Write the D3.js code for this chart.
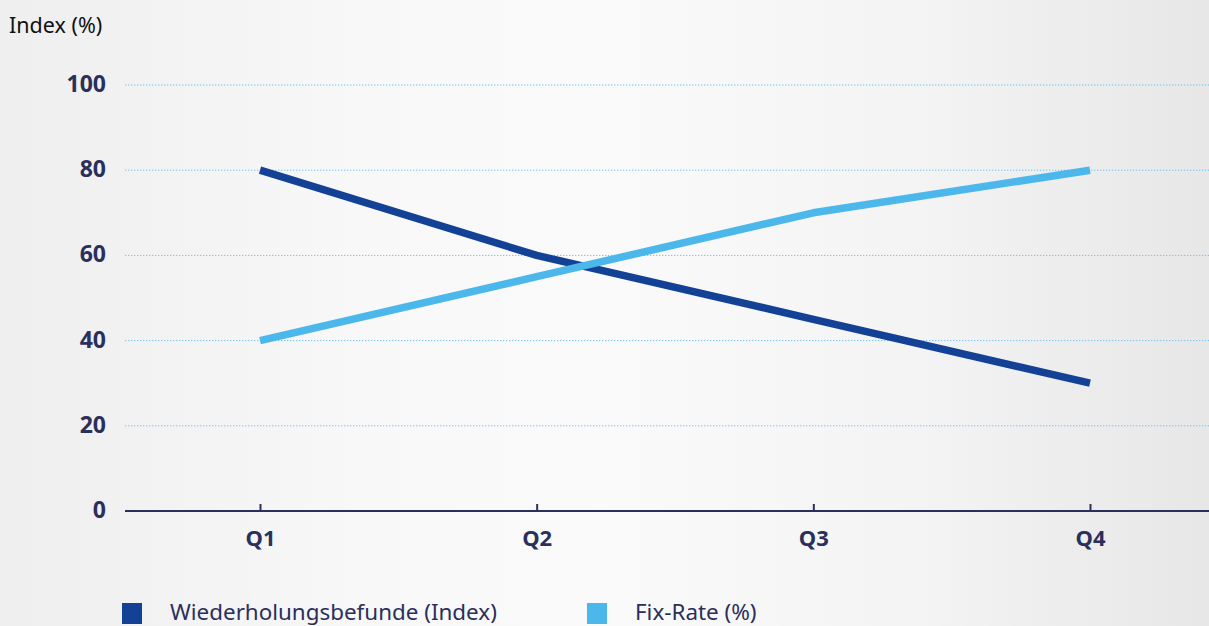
<!DOCTYPE html>
<html>
<head>
<meta charset="utf-8">
<script src="https://cdn.jsdelivr.net/npm/d3@7"></script>
<style>
  html, body { margin: 0; padding: 0; }
  body { width: 1209px; height: 626px; overflow: hidden; }
  svg { display: block; font-family: "Noto Sans", "Open Sans", sans-serif; }
</style>
</head>
<body>
<svg id="chart" width="1209" height="626"></svg>
<script>
// Quarterly data
const quarters = ["Q1", "Q2", "Q3", "Q4"];
const repeatFindings = [80, 60, 45, 30];   // Wiederholungsbefunde (Index)
const fixRate = [40, 55, 70, 80];          // Fix-Rate (%)
const yTicks = [0, 20, 40, 60, 80, 100];
const seriesNames = ["Wiederholungsbefunde (Index)", "Fix-Rate (%)"];
const seriesColors = ["#134196", "#4cb7ea"];

const W = 1209, H = 626;
const svg = d3.select("#chart");

// Soft horizontal background shading
const defs = svg.append("defs");
const bg = defs.append("linearGradient").attr("id", "bg").attr("x1", "0").attr("x2", "1").attr("y1", "0").attr("y2", "0");
[["0%", "#efefef"], ["9%", "#f1f1f1"], ["30%", "#f8f8f8"], ["50%", "#fafafa"], ["75%", "#f4f4f4"], ["100%", "#e7e7e7"]]
  .forEach(([o, c]) => bg.append("stop").attr("offset", o).attr("stop-color", c));
svg.append("rect").attr("width", W).attr("height", H).attr("fill", "url(#bg)");

const axisLeft = 125, axisRight = W;
const x = d3.scalePoint().domain(quarters).range([260, 1090]);
const y = d3.scaleLinear().domain([0, 100]).range([511, 85]);

const navy = "#2b2f5c";

// Dotted gridlines
svg.append("g").selectAll("line")
  .data(yTicks.filter(d => d > 0))
  .join("line")
  .attr("x1", axisLeft).attr("x2", axisRight)
  .attr("y1", d => y(d)).attr("y2", d => y(d))
  .attr("stroke", "#6cc3ee")
  .attr("stroke-width", 1)
  .attr("stroke-dasharray", "1.3,1.7");

// Y tick labels
const yAxis = d3.axisLeft(y).tickValues(yTicks).tickSize(0).tickPadding(0);
const gy = svg.append("g").attr("transform", "translate(106,0)").call(yAxis);
gy.select(".domain").remove();
gy.selectAll("text")
  .attr("fill", navy)
  .attr("font-size", 23)
  .attr("font-weight", 700)
  .attr("font-family", "'Noto Sans', sans-serif")
  .attr("dy", "0.28em");

// X axis
const xAxis = d3.axisBottom(x).tickSize(-7).tickPadding(0);
const gx = svg.append("g").attr("transform", `translate(0,${y(0)})`).call(xAxis);
gx.select(".domain").remove();
gx.insert("line", ":first-child")
  .attr("x1", axisLeft).attr("x2", axisRight)
  .attr("stroke", navy).attr("stroke-width", 2);
gx.selectAll(".tick line").attr("stroke", navy).attr("stroke-width", 2);
gx.selectAll(".tick text")
  .attr("fill", navy)
  .attr("font-size", 22)
  .attr("font-weight", 700)
  .attr("font-family", "'Noto Sans', sans-serif")
  .attr("y", 35)
  .attr("dy", 0);

// Axis title
svg.append("text")
  .attr("x", 9).attr("y", 33)
  .attr("font-size", 21.5)
  .attr("fill", "#111")
  .text("Index (%)");

// Lines
const line = d3.line().x((d, i) => x(quarters[i])).y(d => y(d));
[repeatFindings, fixRate].forEach((vals, k) => {
  svg.append("path")
    .datum(vals)
    .attr("d", line)
    .attr("fill", "none")
    .attr("stroke", seriesColors[k])
    .attr("stroke-width", 7.5)
    .attr("stroke-linejoin", "round")
    .attr("stroke-linecap", "butt");
});

// Legend
const legendX = [122, 587];
const legend = svg.append("g");
seriesNames.forEach((name, k) => {
  legend.append("rect")
    .attr("x", legendX[k]).attr("y", 603)
    .attr("width", 20).attr("height", 21)
    .attr("fill", seriesColors[k]);
  legend.append("text")
    .attr("x", legendX[k] + 48).attr("y", 619.5)
    .attr("font-size", 22.4)
    .attr("fill", navy)
    .text(name);
});
</script>
</body>
</html>
